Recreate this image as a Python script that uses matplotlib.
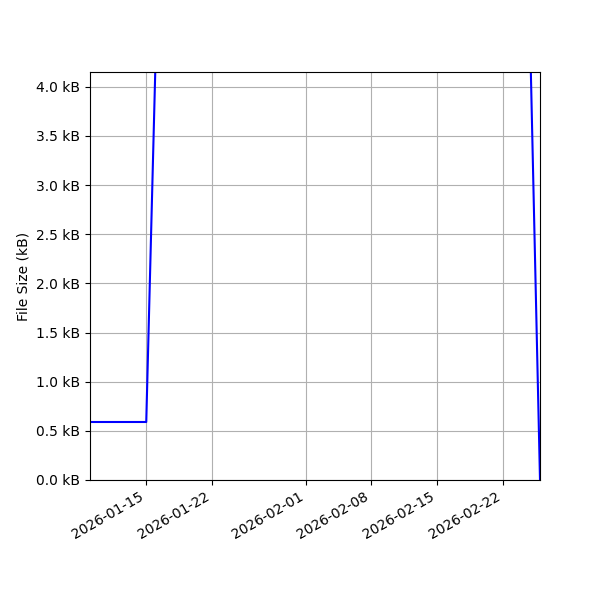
import matplotlib
matplotlib.use("Agg")
import matplotlib.pyplot as plt
import matplotlib.dates as mdates
from matplotlib.ticker import FuncFormatter, MultipleLocator
import numpy as np
import datetime as dt

dates = ["2026-01-09", "2026-01-15", "2026-01-16", "2026-02-25", "2026-02-26"]
sizes_kb = [0.59, 0.59, 4.3, 4.25, 0.0]

x = [dt.datetime.strptime(d, "%Y-%m-%d") for d in dates]

fig, ax = plt.subplots(figsize=(6, 6), dpi=100)
ax.plot(x, sizes_kb, color="blue", lw=1.5)
ax.set_xlim(x[0], x[-1])
ax.set_ylim(0, 4.15)
ax.yaxis.set_major_locator(MultipleLocator(0.5))
ax.yaxis.set_major_formatter(FuncFormatter(lambda v, p: f"{v:.1f} kB"))
ax.set_ylabel("File Size (kB)")
ax.xaxis.set_major_locator(mdates.DayLocator(bymonthday=[1, 8, 15, 22]))
ax.xaxis.set_major_formatter(mdates.DateFormatter("%Y-%m-%d"))
ax.grid(True)
fig.autofmt_xdate()
fig.subplots_adjust(left=0.15, right=0.9, top=0.88, bottom=0.2)
fig.savefig("out.png")
